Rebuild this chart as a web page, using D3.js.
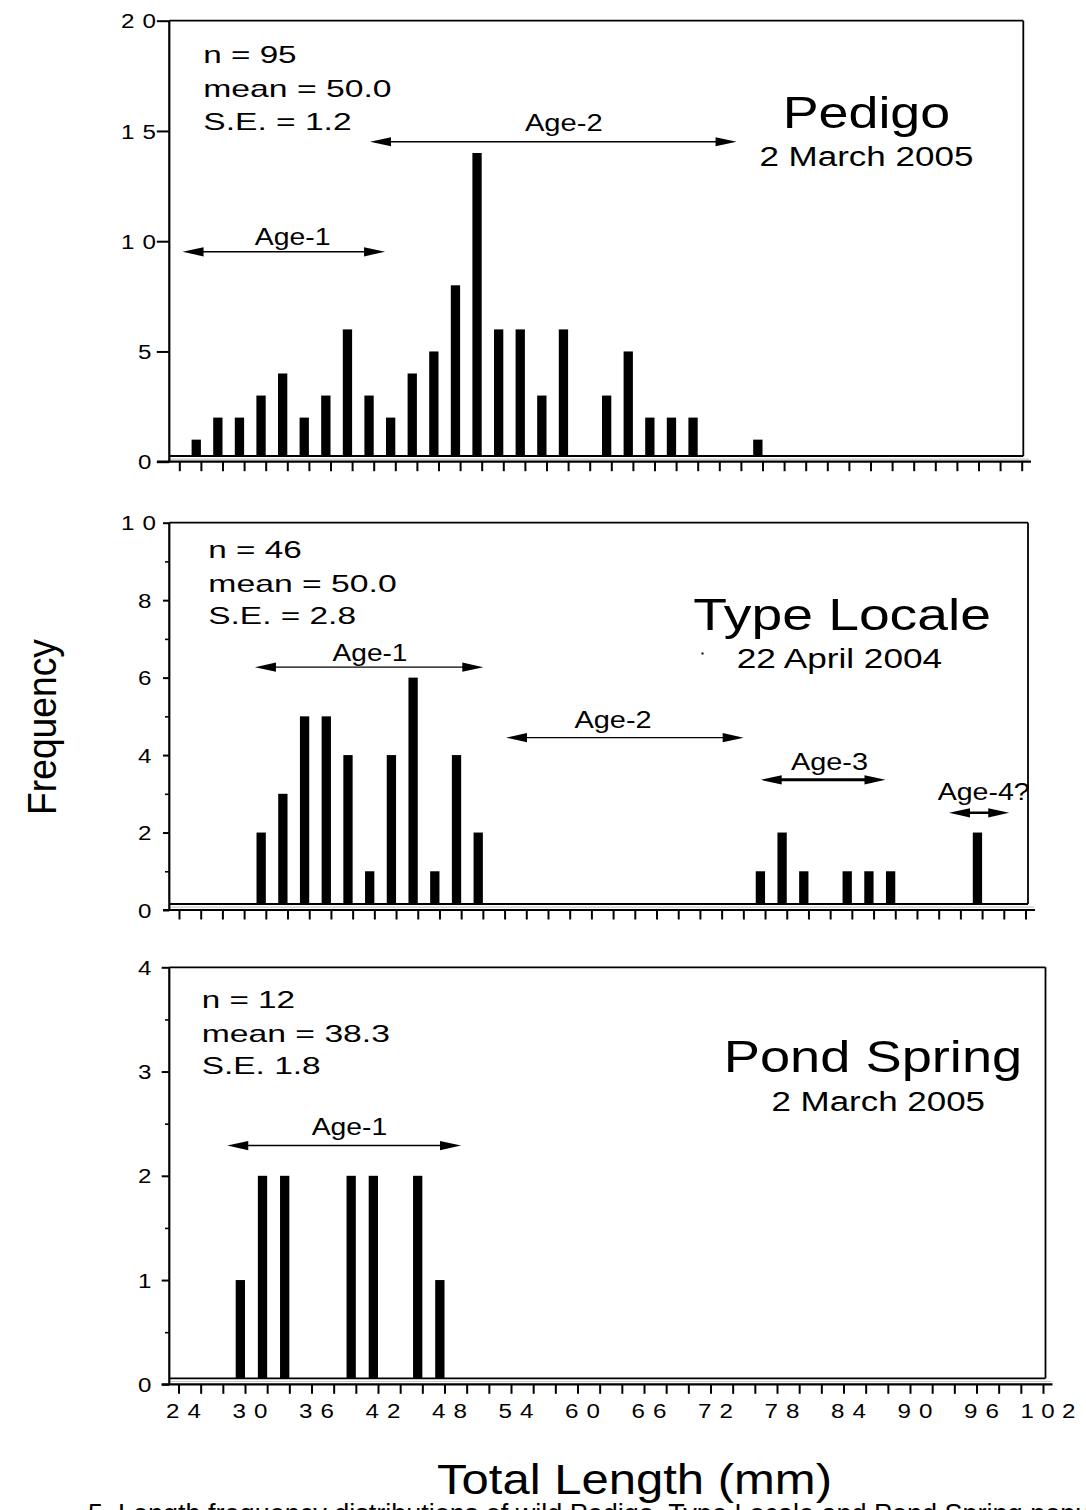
<!DOCTYPE html>
<html><head><meta charset="utf-8">
<script src="https://cdn.jsdelivr.net/npm/d3@7"></script>
<style>
html,body{margin:0;padding:0;background:#fff;}
svg{display:block;}
text{font-family:"Liberation Sans",Arial,Helvetica,sans-serif;fill:#000;}
</style></head><body>
<svg id="chart" width="1086" height="1510"></svg>
<script>
// ---------------- DATA ----------------
const xTickLabels = [24, 30, 36, 42, 48, 54, 60, 66, 72, 78, 84, 90, 96, 102];

// length classes (mm, upper edge of 2-mm class) and frequencies
const pedigoLengths = [26, 28, 30, 32, 34, 36, 38, 40, 42, 44, 46, 48, 50, 52, 54, 56, 58, 60, 64, 66, 68, 70, 72, 78];
const pedigoCounts  = [1, 2, 2, 3, 4, 2, 3, 6, 3, 2, 4, 5, 8, 14, 6, 6, 3, 6, 3, 5, 2, 2, 2, 1];

const typeLocaleLengths = [32, 34, 36, 38, 40, 42, 44, 46, 48, 50, 52, 78, 80, 82, 86, 88, 90, 98];
const typeLocaleCounts  = [2, 3, 5, 5, 4, 1, 4, 6, 1, 4, 2, 1, 2, 1, 1, 1, 1, 2];

const pondSpringLengths = [30, 32, 34, 40, 42, 46, 48];
const pondSpringCounts  = [1, 2, 2, 2, 2, 2, 1];

const pedigoYTicks = [0, 5, 10, 15, 20];
const typeLocaleYTicks = [0, 2, 4, 6, 8, 10];
const pondSpringYTicks = [0, 1, 2, 3, 4];

const pedigoStats = ["n = 95", "mean = 50.0", "S.E. = 1.2"];
const typeLocaleStats = ["n = 46", "mean = 50.0", "S.E. = 2.8"];
const pondSpringStats = ["n = 12", "mean = 38.3", "S.E. 1.8"];

const siteNames = ["Pedigo", "Type Locale", "Pond Spring"];
const siteDates = ["2 March 2005", "22 April 2004", "2 March 2005"];

// age-class annotation arrows: span in mm, height in frequency units
const pedigoAges = [
  {label: "Age-1", from: 24.3, to: 43.05, at: 9.52, labelMm: 34.5},
  {label: "Age-2", from: 41.66, to: 75.6, at: 14.51, labelMm: 59.6}
];
const typeLocaleAges = [
  {label: "Age-1", from: 31.0, to: 52.04, at: 6.27, labelMm: 41.6},
  {label: "Age-2", from: 54.13, to: 76.03, at: 4.45, labelMm: 64.0},
  {label: "Age-3", from: 77.6, to: 89.1, at: 3.36, labelMm: 83.94},
  {label: "Age-4?", from: 94.95, to: 100.5, at: 2.51, labelMm: 98.15}
];
const pondSpringAges = [
  {label: "Age-1", from: 28.4, to: 49.49, at: 2.29, labelMm: 39.43}
];

const yTitle = "Frequency";
const xTitle = "Total Length (mm)";
const captionText = "5.  Length frequency distributions of wild Pedigo, Type Locale and Pond Spring populations.";

// ---------------- LAYOUT ----------------
const svg = d3.select("#chart");
const BAR_W = 9.3;
const NUM_SIZE = 21, NUM_SX = 1.15;

const panels = [
  {lengths: pedigoLengths, counts: pedigoCounts, yTicks: pedigoYTicks, minor: null,
   stats: pedigoStats, name: siteNames[0], date: siteDates[0], ages: pedigoAges,
   left: 169.3, top: 20.7, right: 1023.3, frameBottom: 456, axisY: 461.7,
   xRange: [179.3, 1021.7], yMax: 20, axisStart: 157, axisEnd: 1031, majorLen: 12.5,
   statsX: 203.3, statsY: [63.3, 96.7, 130], statsW: [93.3, 188.3, 148.3],
   nameBox: {x: 782.7, y: 128.3, w: 167.5}, dateBox: {x: 759.4, y: 165.7, w: 214},
   labelGap: [6.7, 11], arrowW: [1.4, 1.4], labelW: [75.7, 77.7], showX: false},
  {lengths: typeLocaleLengths, counts: typeLocaleCounts, yTicks: typeLocaleYTicks, minor: [1, 3, 5, 7, 9],
   stats: typeLocaleStats, name: siteNames[1], date: siteDates[1], ages: typeLocaleAges,
   left: 169.3, top: 522.7, right: 1028, frameBottom: 904, axisY: 910,
   xRange: [179, 1025.5], yMax: 10, axisStart: 163, axisEnd: 1035, majorLen: 6.3,
   statsX: 208.3, statsY: [558.3, 591.7, 624.3], statsW: [93.4, 188.4, 147.7],
   nameBox: {x: 693.2, y: 630, w: 297.7}, dateBox: {x: 736.7, y: 668.3, w: 205.5},
   labelGap: [6.3, 9.4, 9.5, 12.7], arrowW: [1.4, 1.4, 3, 2.6], labelW: [75, 77.3, 77, 92], showX: false,
   dot: true},
  {lengths: pondSpringLengths, counts: pondSpringCounts, yTicks: pondSpringYTicks, minor: [0.5, 1.5, 2.5, 3.5],
   stats: pondSpringStats, name: siteNames[2], date: siteDates[2], ages: pondSpringAges,
   left: 169.3, top: 967.3, right: 1045.5, frameBottom: 1378.3, axisY: 1384.3,
   xRange: [178.5, 1043], yMax: 4, axisStart: 161.7, axisEnd: 1052.5, majorLen: 7.6,
   statsX: 201.7, statsY: [1008.3, 1041.7, 1074.3], statsW: [93.3, 188.3, 119],
   nameBox: {x: 723.8, y: 1071.7, w: 298.4}, dateBox: {x: 771.5, y: 1110.7, w: 213.5},
   labelGap: [10.7], arrowW: [1.4], labelW: [75.6], showX: true}
];

function stretchText(g, str, x, y, w, size, anchor) {
  return g.append("text")
    .attr("x", x).attr("y", y)
    .attr("font-size", size)
    .attr("text-anchor", anchor || "start")
    .attr("textLength", w)
    .attr("lengthAdjust", "spacingAndGlyphs")
    .text(str);
}

// spaced, slightly widened numeric tick label; (x = visual centre or right edge)
function numLabel(g, str, x, y, anchor) {
  const t = g.append("text")
    .attr("transform", `translate(${x},${y}) scale(${NUM_SX},1)`)
    .attr("font-size", NUM_SIZE)
    .attr("text-anchor", anchor)
    .text(str);
  if (str.length > 1) {
    const visW = str.length === 3 ? 55 : 35;
    t.attr("textLength", visW / NUM_SX).attr("lengthAdjust", "spacing");
  }
  return t;
}

function arrowHead(g, tipX, y, dir) {
  const L = 21, H = 4.6;
  g.append("path")
    .attr("d", `M${tipX},${y} L${tipX - dir * L},${y - H} L${tipX - dir * L},${y + H} Z`)
    .attr("fill", "#000");
}

panels.forEach(p => {
  const g = svg.append("g");
  const x = d3.scaleLinear().domain([24, 102]).range(p.xRange);
  const y = d3.scaleLinear().domain([0, p.yMax]).range([p.axisY, p.top]);

  // frame: top, right, bottom (plot floor)
  g.append("line").attr("x1", p.left).attr("x2", p.right).attr("y1", p.top).attr("y2", p.top)
    .attr("stroke", "#000").attr("stroke-width", 1.8);
  g.append("line").attr("x1", p.right).attr("x2", p.right).attr("y1", p.top).attr("y2", p.frameBottom)
    .attr("stroke", "#000").attr("stroke-width", 1.8);
  g.append("line").attr("x1", p.left).attr("x2", p.right).attr("y1", p.frameBottom).attr("y2", p.frameBottom)
    .attr("stroke", "#000").attr("stroke-width", 1.8);
  g.append("line").attr("x1", p.left).attr("x2", p.right + 6).attr("y1", p.frameBottom + 3.2).attr("y2", p.frameBottom + 3.2)
    .attr("stroke", "#c8c8c8").attr("stroke-width", 1.2);

  // bars
  const rows = p.lengths.map((L, i) => ({L, c: p.counts[i]}));
  g.selectAll("rect.bar").data(rows).join("rect")
    .attr("class", "bar")
    .attr("x", d => x(d.L) - BAR_W)
    .attr("width", BAR_W)
    .attr("y", d => y(d.c))
    .attr("height", d => p.frameBottom - y(d.c))
    .attr("fill", "#000");

  // x axis (ticks every 2 mm)
  const xAxis = d3.axisBottom(x).tickValues(d3.range(24, 103, 2)).tickSize(9.5).tickFormat("");
  const xg = g.append("g").attr("transform", `translate(0,${p.axisY})`).call(xAxis);
  xg.select(".domain").remove();
  xg.selectAll(".tick line").attr("stroke", "#000").attr("stroke-width", 2);
  g.append("line").attr("x1", p.axisStart).attr("x2", p.axisEnd).attr("y1", p.axisY).attr("y2", p.axisY)
    .attr("stroke", "#000").attr("stroke-width", 2.2);

  if (p.showX) {
    xTickLabels.forEach(v => numLabel(g, String(v), x(v) + 5, p.axisY + 34, "middle"));
  }

  // y axis
  g.append("line").attr("x1", p.left).attr("x2", p.left).attr("y1", p.top).attr("y2", p.axisY)
    .attr("stroke", "#000").attr("stroke-width", 2.2);
  const yAxis = d3.axisLeft(y).tickValues(p.yTicks).tickSize(p.majorLen).tickFormat("");
  const yg = g.append("g").attr("transform", `translate(${p.left},0)`).call(yAxis);
  yg.select(".domain").remove();
  yg.selectAll(".tick line").attr("stroke", "#000").attr("stroke-width", 2);
  if (p.minor) {
    const ym = d3.axisLeft(y).tickValues(p.minor).tickSize(4.3).tickFormat("");
    const ymg = g.append("g").attr("transform", `translate(${p.left},0)`).call(ym);
    ymg.select(".domain").remove();
    ymg.selectAll(".tick line").attr("stroke", "#000").attr("stroke-width", 1.6);
  }
  p.yTicks.forEach(v => {
    const s = String(v);
    numLabel(g, s, s.length > 1 ? 156 : 151.5, y(v) + 7.6, "end");
  });

  // stats block
  p.stats.forEach((s, i) => stretchText(g, s, p.statsX, p.statsY[i], p.statsW[i], 24));

  // site name and date
  stretchText(g, p.name, p.nameBox.x, p.nameBox.y, p.nameBox.w, 44);
  stretchText(g, p.date, p.dateBox.x, p.dateBox.y, p.dateBox.w, 27);
  if (p.dot) {
    g.append("rect").attr("x", 701.5).attr("y", 652.5).attr("width", 2).attr("height", 2).attr("fill", "#000");
  }

  // age arrows
  p.ages.forEach((a, i) => {
    const yy = y(a.at);
    const x1 = x(a.from), x2 = x(a.to);
    g.append("line").attr("x1", x1 + 10).attr("x2", x2 - 10).attr("y1", yy).attr("y2", yy)
      .attr("stroke", "#000").attr("stroke-width", p.arrowW[i]);
    arrowHead(g, x1, yy, -1);
    arrowHead(g, x2, yy, 1);
    stretchText(g, a.label, x(a.labelMm), yy - p.labelGap[i], p.labelW[i], 23, "middle");
  });
});

// axis titles
svg.append("text")
  .attr("transform", "translate(56,727) rotate(-90)")
  .attr("text-anchor", "middle")
  .attr("font-size", 40)
  .attr("textLength", 176).attr("lengthAdjust", "spacingAndGlyphs")
  .text(yTitle);

stretchText(svg, xTitle, 437, 1494, 395, 43);

// figure caption (cut off by the page bottom, as in the source figure)
svg.append("text")
  .attr("x", 88).attr("y", 1523)
  .attr("font-family", "'Liberation Serif','Times New Roman',serif")
  .attr("font-size", 27)
  .text(captionText);
</script>
</body></html>
